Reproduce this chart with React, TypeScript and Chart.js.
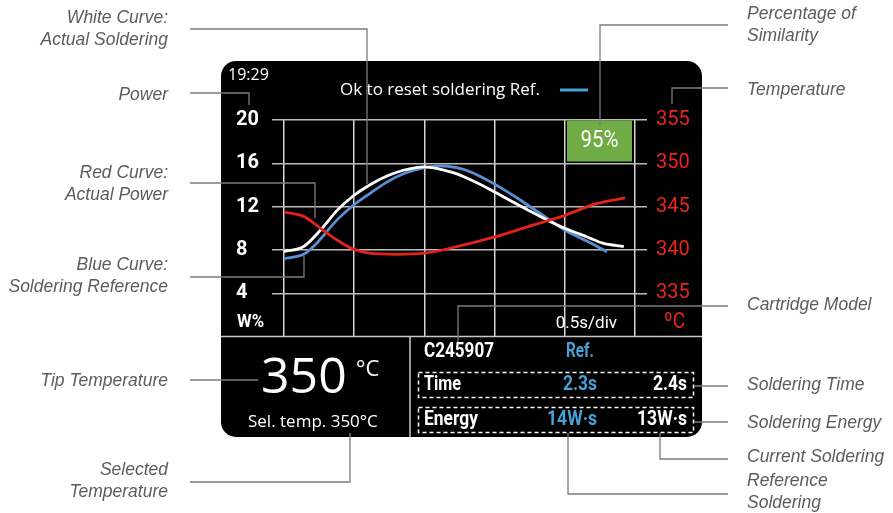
import React, { useEffect, useRef } from 'react';
import { Chart, registerables } from 'chart.js';

Chart.register(...registerables);

// ---- data ----
const timeMax = 2.5; // seconds, 0.5 s/div
const timeStep = 0.5;
const powerMin = 0;
const powerMax = 20;
const powerStep = 4;
const tempMin = 330;
const tempMax = 355;
const tempStep = 5;

// White curve: actual soldering temperature (°C)
const whiteTime = [0, 0.14, 0.26, 0.38, 0.49, 0.61, 0.73, 0.85, 1.0, 1.21, 1.33, 1.5, 1.68, 1.87, 2.0, 2.16, 2.27, 2.42];
const whiteTemp = [339.8, 340.4, 342.3, 344.6, 346.2, 347.5, 348.5, 349.2, 349.6, 348.9, 348.1, 346.7, 345.1, 343.5, 342.5, 341.5, 340.8, 340.4];

// Blue curve: soldering reference temperature (°C)
const blueTime = [0, 0.14, 0.21, 0.38, 0.49, 0.61, 0.73, 0.85, 0.97, 1.11, 1.23, 1.33, 1.5, 1.68, 1.87, 2.0, 2.16, 2.3];
const blueTemp = [339.0, 339.5, 340.4, 343.5, 345.1, 346.5, 347.8, 348.8, 349.4, 349.7, 349.5, 349.0, 347.6, 345.8, 343.7, 342.3, 341.0, 339.8];

// Red curve: actual power (W%)
const redTime = [0, 0.14, 0.26, 0.38, 0.49, 0.61, 0.8, 1.0, 1.23, 1.5, 1.75, 2.0, 2.23, 2.43];
const redPower = [11.5, 11.1, 10.0, 8.9, 8.1, 7.7, 7.6, 7.7, 8.3, 9.2, 10.2, 11.2, 12.3, 12.8];

// Screen texts
const clockText = '19:29';
const headerText = 'Ok to reset soldering Ref.';
const similarityText = '95%';
const powerUnit = 'W%';
const tempUnit = 'ºC';
const timeDivText = '0.5s/div';
const tipTempText = '350';
const tipTempUnit = '°C';
const selTempText = 'Sel. temp. 350°C';
const cartridgeText = 'C245907';
const refHeader = 'Ref.';
const rowLabels = ['Time', 'Energy'];
const refValues = ['2.3s', '14W·s'];
const curValues = ['2.4s', '13W·s'];

// Callout texts
const leftNotes = [
  ['White Curve:', 'Actual Soldering'],
  ['Power'],
  ['Red Curve:', 'Actual Power'],
  ['Blue Curve:', 'Soldering Reference'],
  ['Tip Temperature'],
  ['Selected', 'Temperature'],
];
const rightNotes = [
  ['Percentage of', 'Similarity'],
  ['Temperature'],
  ['Cartridge Model'],
  ['Soldering Time'],
  ['Soldering Energy'],
  ['Current Soldering'],
  ['Reference', 'Soldering'],
];

// ---- styles ----
const NARROW = 'Roboto, "Liberation Sans", sans-serif';
const OPEN = '"Open Sans", "Noto Sans", sans-serif';
const NOTE = '"Liberation Sans", Arial, sans-serif';
const RED = '#e8261e';
const BLUE_TXT = '#4aa0d4';
const WHITE_LINE = '#ffffff';
const BLUE_LINE = '#5a8fd4';
const RED_LINE = '#e3221a';
const LEADER = '#7c7c7c';
const NOTE_COLOR = '#5c5c5c';

function roundRectPath(ctx: CanvasRenderingContext2D, x: number, y: number, w: number, h: number, r: number) {
  ctx.beginPath();
  ctx.moveTo(x + r, y);
  ctx.lineTo(x + w - r, y);
  ctx.arcTo(x + w, y, x + w, y + r, r);
  ctx.lineTo(x + w, y + h - r);
  ctx.arcTo(x + w, y + h, x + w - r, y + h, r);
  ctx.lineTo(x + r, y + h);
  ctx.arcTo(x, y + h, x, y + h - r, r);
  ctx.lineTo(x, y + r);
  ctx.arcTo(x, y, x + r, y, r);
  ctx.closePath();
}

function poly(ctx: CanvasRenderingContext2D, pts: number[][]) {
  ctx.beginPath();
  ctx.moveTo(pts[0][0], pts[0][1]);
  for (let i = 1; i < pts.length; i++) ctx.lineTo(pts[i][0], pts[i][1]);
  ctx.stroke();
}

function text(ctx: CanvasRenderingContext2D, s: string, x: number, y: number, font: string, color: string, align: CanvasTextAlign = 'left') {
  ctx.font = font;
  ctx.fillStyle = color;
  ctx.textAlign = align;
  ctx.textBaseline = 'middle';
  ctx.fillText(s, x, y);
}

// condensed text: squeezed horizontally to a target width
function textFit(ctx: CanvasRenderingContext2D, s: string, x: number, y: number, font: string, color: string, align: CanvasTextAlign, width: number) {
  ctx.save();
  ctx.font = font;
  const w = ctx.measureText(s).width || 1;
  const sx = Math.min(1, width / w);
  ctx.translate(x, y);
  ctx.scale(sx, 1);
  ctx.fillStyle = color;
  ctx.textAlign = align;
  ctx.textBaseline = 'middle';
  ctx.fillText(s, 0, 0);
  ctx.restore();
}

const panelPlugin = {
  id: 'panelPlugin',
  beforeDraw(chart: any) {
    const ctx: CanvasRenderingContext2D = chart.ctx;
    ctx.save();
    ctx.fillStyle = '#ffffff';
    ctx.fillRect(0, 0, chart.width, chart.height);
    ctx.fillStyle = '#000000';
    roundRectPath(ctx, 221, 61, 481, 376, 15);
    ctx.fill();
    ctx.restore();
  },
  afterDraw(chart: any) {
    const ctx: CanvasRenderingContext2D = chart.ctx;
    const area = chart.chartArea;
    ctx.save();

    // dividers
    ctx.strokeStyle = '#c8c8c8';
    ctx.lineWidth = 1.5;
    poly(ctx, [[221, area.bottom], [702, area.bottom]]);
    poly(ctx, [[410, area.bottom], [410, 437]]);

    // header
    text(ctx, clockText, 228, 75, `16px ${OPEN}`, '#fff');
    text(ctx, headerText, 340, 90, `17px ${OPEN}`, '#fff');
    ctx.strokeStyle = BLUE_TXT;
    ctx.lineWidth = 3;
    poly(ctx, [[560, 90], [588, 90]]);

    // units
    textFit(ctx, powerUnit, 237, 322, `bold 18px ${NARROW}`, '#fff', 'left', 27);
    textFit(ctx, tempUnit, 664, 322, `22px ${NARROW}`, RED, 'left', 21);
    textFit(ctx, timeDivText, 617, 324, `17px ${NARROW}`, '#fff', 'right', 62);

    // similarity box
    ctx.fillStyle = '#6fac46';
    ctx.fillRect(567, 120.5, 65, 41);
    textFit(ctx, similarityText, 599.5, 141.5, `23px ${NARROW}`, '#fff', 'center', 38);

    // bottom-left info
    text(ctx, tipTempText, 261, 379, `50px ${OPEN}`, '#fff');
    text(ctx, tipTempUnit, 356, 370, `22px ${OPEN}`, '#fff');
    text(ctx, selTempText, 248, 422, `17px ${OPEN}`, '#fff');

    // bottom-right info
    textFit(ctx, cartridgeText, 424, 352, `bold 21px ${NARROW}`, '#fff', 'left', 70);
    textFit(ctx, refHeader, 566, 352, `bold 20px ${NARROW}`, BLUE_TXT, 'left', 28);
    ctx.strokeStyle = '#ffffff';
    ctx.lineWidth = 1.5;
    ctx.setLineDash([4, 3]);
    ctx.strokeRect(418.5, 372.5, 275, 25);
    ctx.strokeRect(418.5, 407.5, 275, 25);
    ctx.setLineDash([]);
    const rowY = [385, 420];
    const labelW = [37, 54];
    const valW = [34, 50];
    rowLabels.forEach((lab, i) => {
      textFit(ctx, lab, 424, rowY[i], `bold 21px ${NARROW}`, '#fff', 'left', labelW[i]);
      textFit(ctx, refValues[i], 597, rowY[i], `bold 21px ${NARROW}`, BLUE_TXT, 'right', valW[i]);
      textFit(ctx, curValues[i], 687, rowY[i], `bold 21px ${NARROW}`, '#fff', 'right', valW[i]);
    });

    // leader lines
    ctx.strokeStyle = LEADER;
    ctx.lineWidth = 1.3;
    const leftLeaders = [
      [[190, 29], [367, 29], [367, 184]],
      [[190, 93], [249, 93], [249, 105]],
      [[190, 183], [315, 183], [315, 218]],
      [[190, 277], [304, 277], [304, 256]],
      [[190, 380], [258, 380]],
      [[190, 482], [350, 482], [350, 433]],
    ];
    const rightLeaders = [
      [[728, 25], [600, 25], [600, 125]],
      [[728, 88], [672, 88], [672, 104]],
      [[728, 306], [458, 306], [458, 342]],
      [[728, 386], [694, 386]],
      [[728, 422], [694, 422]],
      [[728, 459], [660, 459], [660, 433]],
      [[728, 494], [568, 494], [568, 433]],
    ];
    leftLeaders.forEach((p) => poly(ctx, p));
    rightLeaders.forEach((p) => poly(ctx, p));

    // callout texts
    const noteFont = `italic 17.5px ${NOTE}`;
    const leftY = [18, 95, 173, 265, 381, 470];
    leftNotes.forEach((lines, i) => {
      lines.forEach((s, j) => text(ctx, s, 168, leftY[i] + j * 22, noteFont, NOTE_COLOR, 'right'));
    });
    const rightY = [14, 90, 305, 385, 423, 457, 481];
    rightNotes.forEach((lines, i) => {
      lines.forEach((s, j) => text(ctx, s, 747, rightY[i] + j * 22, noteFont, NOTE_COLOR, 'left'));
    });

    ctx.restore();
  },
};

export default function App() {
  const ref = useRef<HTMLCanvasElement | null>(null);

  useEffect(() => {
    const canvas = ref.current;
    if (!canvas) return;
    const toPts = (xs: number[], ys: number[]) => xs.map((x, i) => ({ x, y: ys[i] }));
    const chart = new Chart(canvas, {
      type: 'line',
      data: {
        datasets: [
          {
            label: 'Actual Power',
            data: toPts(redTime, redPower),
            yAxisID: 'yW',
            borderColor: RED_LINE,
            borderWidth: 2.8,
            pointRadius: 0,
            cubicInterpolationMode: 'monotone',
            order: 0,
          },
          {
            label: 'Actual Soldering',
            data: toPts(whiteTime, whiteTemp),
            yAxisID: 'yT',
            borderColor: WHITE_LINE,
            borderWidth: 2.8,
            pointRadius: 0,
            cubicInterpolationMode: 'monotone',
            order: 1,
          },
          {
            label: 'Soldering Reference',
            data: toPts(blueTime, blueTemp),
            yAxisID: 'yT',
            borderColor: BLUE_LINE,
            borderWidth: 2.8,
            pointRadius: 0,
            cubicInterpolationMode: 'monotone',
            order: 2,
          },
        ],
      },
      options: {
        responsive: false,
        maintainAspectRatio: false,
        animation: false,
        events: [],
        layout: { padding: { left: 236, right: 198, top: 120, bottom: 176.4 } },
        plugins: {
          legend: { display: false },
          tooltip: { enabled: false },
          title: { display: false },
        },
        scales: {
          x: {
            type: 'linear',
            min: 0,
            max: timeMax,
            ticks: { display: false, stepSize: timeStep },
            grid: { color: '#d6d6d6', lineWidth: 1.5, drawTicks: false },
            border: { display: false },
            afterFit: (s: any) => {
              s.height = 0;
            },
          },
          yW: {
            type: 'linear',
            position: 'left',
            min: powerMin,
            max: powerMax,
            ticks: {
              stepSize: powerStep,
              color: '#ffffff',
              crossAlign: 'far',
              font: { family: NARROW, size: 20, weight: 'bold' },
              callback: (v: any) => (v === powerMin ? '' : String(v)),
            },
            grid: {
              color: (c: any) => (c.tick && c.tick.value === powerMin ? 'rgba(0,0,0,0)' : '#bdbdbd'),
              lineWidth: 1.5,
              tickLength: 12,
            },
            border: { display: false },
            afterFit: (s: any) => {
              s.width = 48;
            },
          },
          yT: {
            type: 'linear',
            position: 'right',
            min: tempMin,
            max: tempMax,
            ticks: {
              stepSize: tempStep,
              color: RED,
              padding: 9,
              font: { family: NARROW, size: 20 },
              callback: (v: any) => (v === tempMin ? '' : String(v)),
            },
            grid: {
              drawOnChartArea: false,
              color: (c: any) => (c.tick && c.tick.value === tempMin ? 'rgba(0,0,0,0)' : '#bdbdbd'),
              lineWidth: 1.5,
              tickLength: 12,
            },
            border: { display: false },
            afterFit: (s: any) => {
              s.width = 60;
            },
          },
        },
      } as any,
      plugins: [panelPlugin],
    });
    return () => chart.destroy();
  }, []);

  return (
    <div style={{ position: 'absolute', left: 0, top: 0, width: 893, height: 513, background: '#fff' }}>
      <canvas ref={ref} width={893} height={513} style={{ display: 'block', width: 893, height: 513 }} />
    </div>
  );
}
